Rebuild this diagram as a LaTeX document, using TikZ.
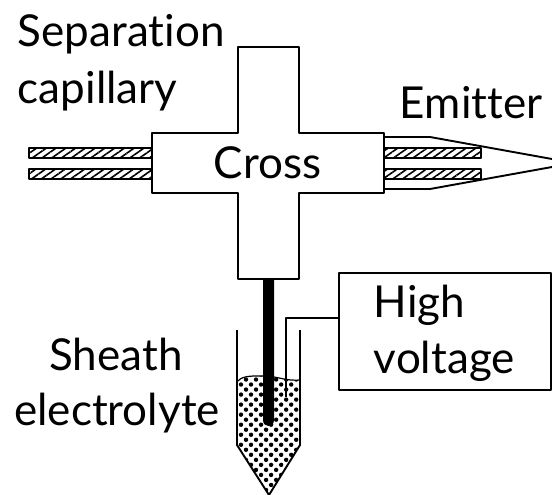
\documentclass[tikz,border=0pt]{standalone}
\usepackage{fontspec}
\setmainfont[Ligatures={NoCommon}]{Lato}
\usetikzlibrary{patterns.meta}
\begin{document}
\begin{tikzpicture}[x=1pt,y=-1pt,line width=1.9pt,line join=round,
  hatched/.style={draw,line width=2pt,pattern={Lines[angle=35,distance=5.6pt,line width=1.6pt]},pattern color=black},
  dotted fluid/.style={pattern={Dots[angle=45,distance=7.1pt,radius=2.2pt]},pattern color=black},
  every node/.style={font=\fontsize{44}{52}\selectfont,inner sep=0pt,align=center}]
 \useasboundingbox (0,0) rectangle (552,495);
 % liquid in the vial
 \path[dotted fluid] (238,381) .. controls (243,375) and (255,376) .. (266,376)
   .. controls (280,377) and (285,381) .. (300,380) -- (300,445) -- (269,494) -- (238,445) -- cycle;
 \draw[line width=1.2pt] (238,381) .. controls (243,375) and (255,376) .. (266,376)
   .. controls (280,377) and (285,381) .. (300,380);
 % vial
 \coordinate (vialL) at (237,330);
 \coordinate (vialR) at (300,330);
 \coordinate (vialT) at (269,495);
 \draw (vialL)--(237,445)--(vialT)--(300,445)--(vialR);
 % capillaries
 \draw[hatched] (29,148) rectangle (152,158);
 \draw[hatched] (29,169) rectangle (152,179);
 \draw[hatched] (384,148) rectangle (481,158);
 \draw[hatched] (384,169) rectangle (481,179);
 % emitter
 \draw (384,137)--(430,137)--(552,159);
 \draw (384,189)--(430,189)--(552,167);
 % cross
 \draw[fill=white] (238,47)--(299,47)--(299,133)--(384,133)--(384,193)--(299,193)--(299,279)
   --(238,279)--(238,193)--(152,193)--(152,133)--(238,133)--cycle;
 % electrode
 \fill (263,279)--(274,279)--(274,420) .. controls (274,428) and (263,428) .. (263,420)--cycle;
 % high voltage
 \node[draw,line width=1.9pt,minimum width=212pt,minimum height=117pt,anchor=north west] (hv) at (338,272) {};
 \coordinate (wire) at (286,397);
 \draw (338,318)--(286,318)--(wire);
 \node[anchor=base west] (high) at (373,317) {High};
 \node[anchor=base west] (voltage) at (373,373) {voltage};
 \node[anchor=base west] (sep) at (17,47) {Separation};
 \node[anchor=base west] (cap) at (17,103) {capillary};
 \node[anchor=base west] (emitter) at (399,118) {Emitter};
 \node[anchor=base] (cross) at (267.5,178) {Cross};
 \node[anchor=base] (sheath) at (116,370) {Sheath};
 \node[anchor=base] (electrolyte) at (117,425) {electrolyte};
\end{tikzpicture}
\end{document}
